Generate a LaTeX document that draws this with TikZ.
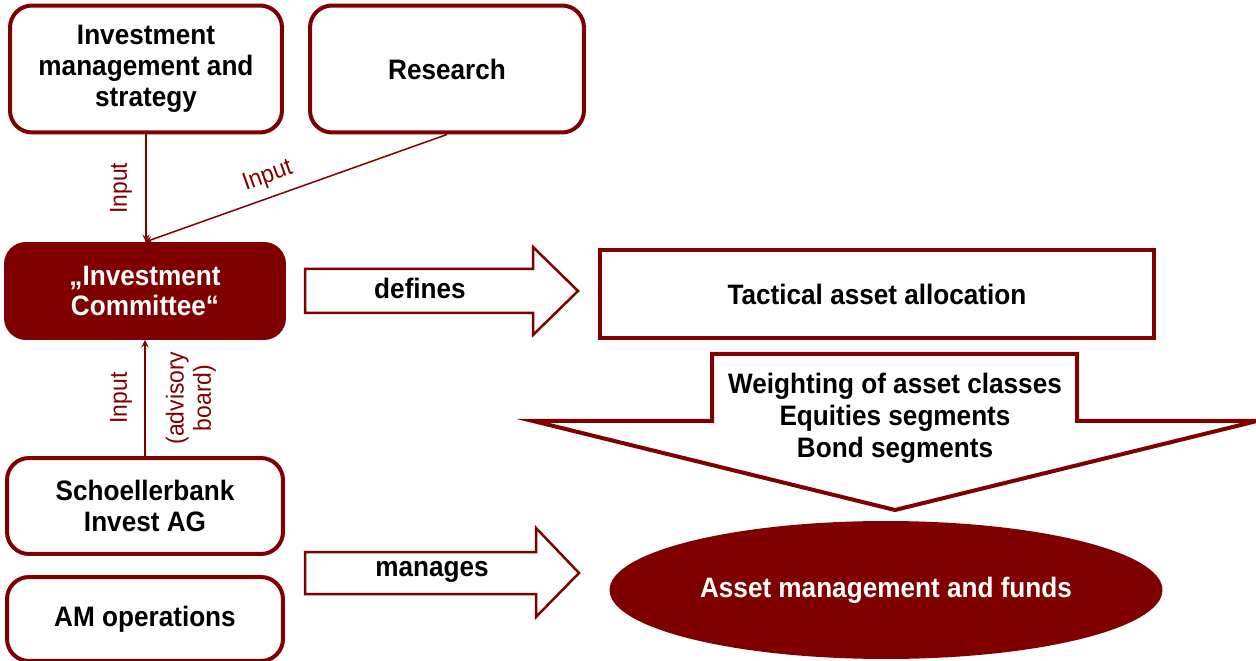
\documentclass[tikz,border=0pt]{standalone}
\usepackage{fontspec}
\setmainfont{Liberation Sans}[FakeStretch=0.93]
\usetikzlibrary{arrows,shapes.geometric}
\definecolor{DR}{RGB}{128, 0, 0}

\begin{document}
\begin{tikzpicture}[x=0.02cm, y=-0.02cm,
  box/.style={draw=DR, line width=0.08cm, rounded corners=0.44cm, align=center,
    font=\fontsize{16}{17.5}\selectfont\bfseries},
  txt/.style={align=center, font=\fontsize{16}{18.2}\selectfont\bfseries},
  lbl/.style={text=DR, align=center, inner sep=2pt, font=\fontsize{14}{15.5}\selectfont},
  conn/.style={DR, line width=0.03cm},
  blockarrow/.style={draw=DR, line width=0.05cm, fill=white}]
  \useasboundingbox (0,0) rectangle (1256,661);

  \node[box, minimum width=5.44cm, minimum height=2.54cm, text depth=0.12cm] (strat) at (146,69) {Investment\\management and\\strategy};
  \node[box, minimum width=5.48cm, minimum height=2.54cm] (res) at (447,69) {Research};
  \node[box, fill=DR, text=white, rounded corners=0.4cm, minimum width=5.56cm, minimum height=1.88cm] (comm) at (145,291) {„Investment\\Committee“};
  \node[box, minimum width=5.52cm, minimum height=1.92cm] (bank) at (145,506) {Schoellerbank\\Invest AG};
  \node[box, minimum width=5.52cm, minimum height=1.68cm] (ops) at (145,619) {AM operations};

  \draw[conn, -stealth] (strat.south) -- (strat.south |- comm.north)
    node[lbl, midway, xshift=-0.5cm, rotate=90] {Input};
  \draw[conn, stealth-] (comm.north) -- (res.south)
    node[lbl, pos=0.43, above=3pt, sloped] {Input};
  \draw[conn, -stealth] (bank.north) -- (comm.south)
    node[lbl, midway, xshift=-0.48cm, rotate=90] {Input}
    node[lbl, midway, xshift=0.92cm, rotate=90] {(advisory\\board)};

  % block arrows
  \draw[blockarrow] (305,269) -- (533,269) -- (533,247) -- (578,291) -- (533,335) -- (533,313) -- (305,313) -- cycle;
  \node[txt] (def) at (420,288) {defines};
  \draw[blockarrow] (305,552) -- (536,552) -- (536,528) -- (579,573) -- (536,617) -- (536,594) -- (305,594) -- cycle;
  \node[txt] (man) at (432,572) {manages};

  \node[txt, draw=DR, line width=0.08cm, minimum width=11.08cm, minimum height=1.76cm] (tact) at (877,294) {Tactical asset allocation};

  \draw[draw=DR, line width=0.08cm, fill=white] (712,354) -- (1077,354) -- (1077,421) -- (1257,421) -- (895,510) -- (533,421) -- (712,421) -- cycle;
  \node[txt] (weights) at (895,418) {Weighting of asset classes\\Equities segments\\Bond segments};

  \node[txt, ellipse, fill=DR, text=white, minimum width=11.06cm, minimum height=2.76cm] (funds) at (886,590) {Asset management and funds};
\end{tikzpicture}
\end{document}
